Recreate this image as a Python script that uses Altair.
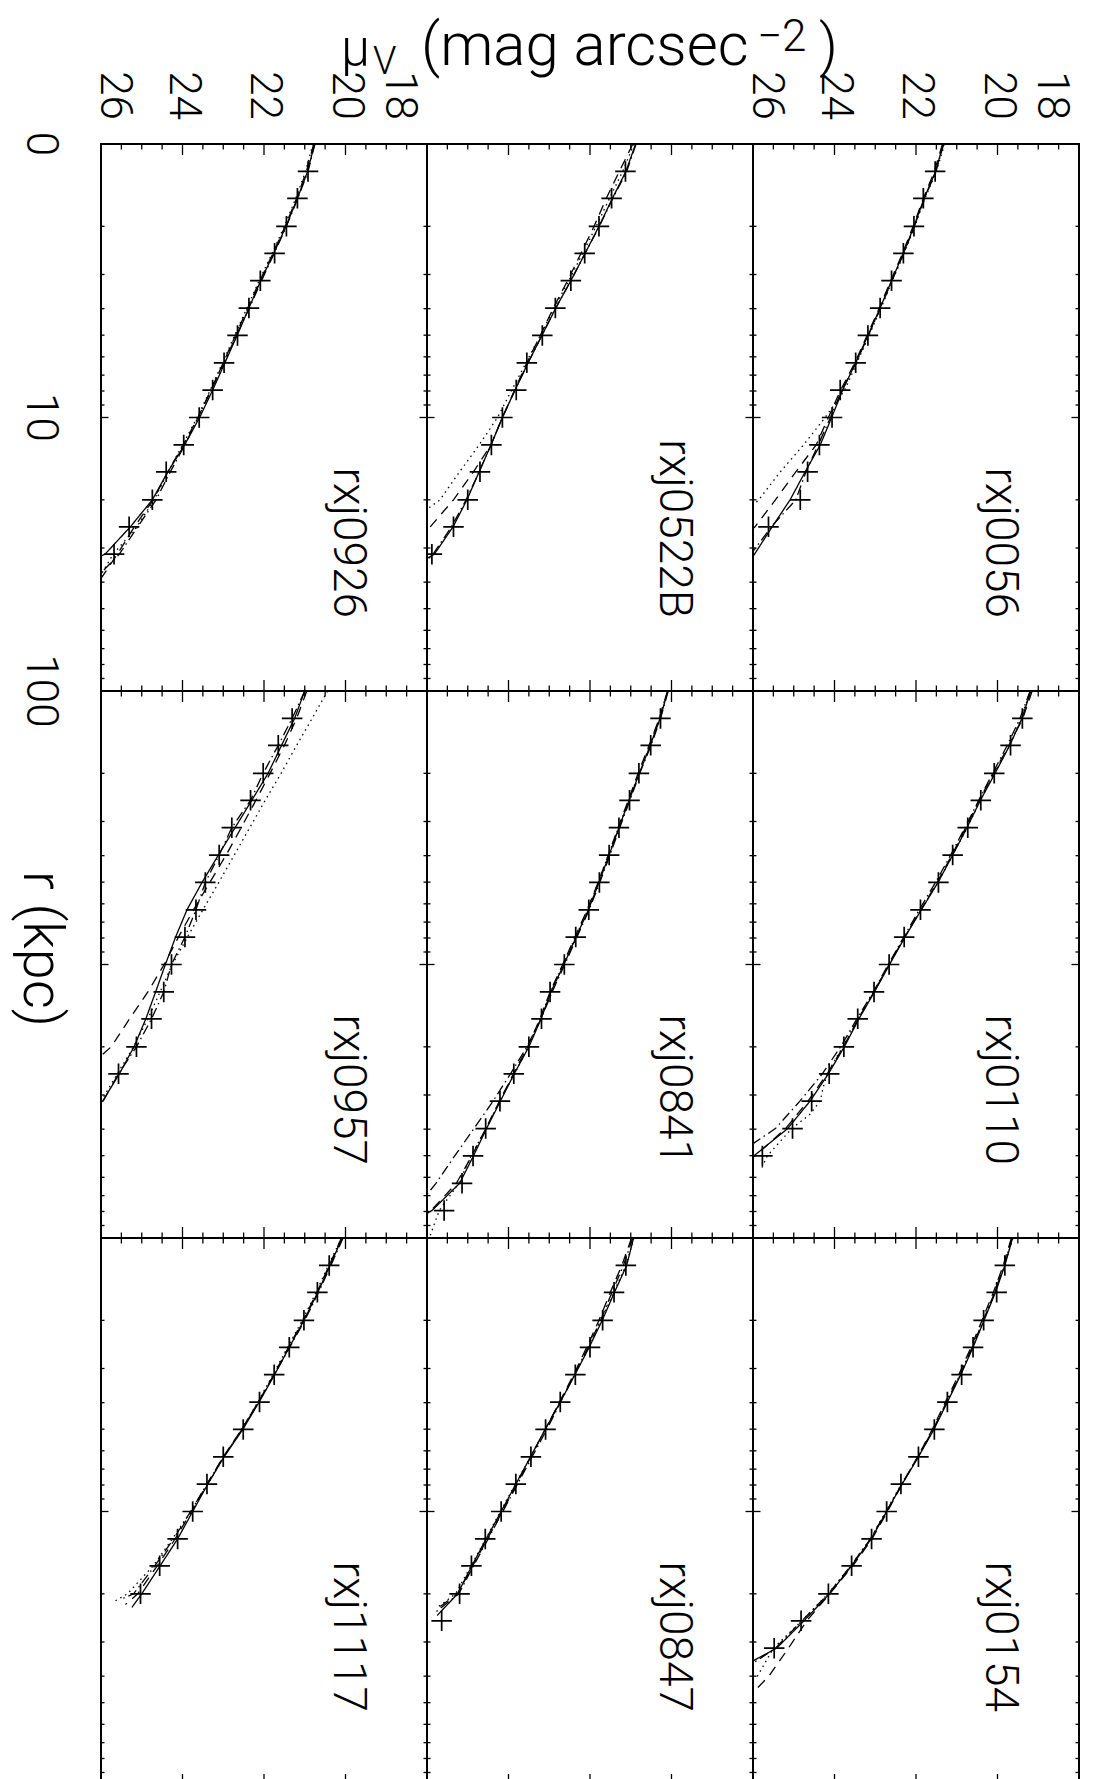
import altair as alt
import pandas as pd

FONT = "Roboto"
WEIGHT = 300
W, H = 326, 547

# radii (kpc) of the sampled profile points, 0.1 dex apart, first one is r = 1
R_LINE = [1.0, 1.26, 1.58, 2.0, 2.51, 3.16, 3.98, 5.01, 6.31, 7.94,
          10.0, 12.6, 15.8, 20.0, 25.1, 31.6, 39.8, 50.1, 63.1, 79.4]

NAMES = ["rxj0926", "rxj0522B", "rxj0056",
         "rxj0957", "rxj0841", "rxj0110",
         "rxj1117", "rxj0847", "rxj0154"]

# observed points (+), starting at r = 1.26 kpc
PTS = {
    "rxj0926": [20.92, 21.18, 21.45, 21.74, 22.09, 22.37, 22.65, 22.98, 23.26, 23.59, 23.97, 24.40, 24.74, 25.31, 25.68],
    "rxj0522B": [21.13, 21.47, 21.78, 22.13, 22.47, 22.85, 23.17, 23.55, 23.81, 24.15, 24.42, 24.70, 25.00, 25.35, 25.88],
    "rxj0056": [21.53, 21.82, 22.05, 22.31, 22.60, 22.88, 23.18, 23.48, 23.86, 24.06, 24.37, 24.66, 24.84, 25.62],
    "rxj0957": [21.31, 21.65, 22.02, 22.33, 22.79, 23.10, 23.44, 23.67, 23.94, 24.27, 24.46, 24.76, 25.13, 25.57],
    "rxj0841": [20.27, 20.51, 20.80, 21.03, 21.29, 21.53, 21.77, 22.03, 22.35, 22.63, 22.98, 23.19, 23.50, 23.87, 24.21, 24.56, 24.87, 25.14, 25.58],
    "rxj0110": [19.39, 19.68, 20.08, 20.41, 20.73, 21.10, 21.45, 21.89, 22.29, 22.66, 23.03, 23.43, 23.77, 24.13, 24.56, 25.03, 25.77],
    "rxj1117": [20.40, 20.69, 21.02, 21.38, 21.75, 22.11, 22.51, 23.00, 23.40, 23.75, 24.12, 24.56, 25.03],
    "rxj0847": [21.12, 21.41, 21.69, 22.00, 22.36, 22.73, 23.09, 23.45, 23.82, 24.18, 24.57, 24.91, 25.20, 25.64],
    "rxj0154": [19.82, 20.02, 20.34, 20.60, 20.88, 21.23, 21.55, 21.94, 22.37, 22.72, 23.09, 23.58, 24.15, 24.82, 25.48],
}

# model curves: values on R_LINE from r = 1, plus extra (r, mu) vertices at the end
SOLID = {
    "rxj0926": ([20.76, 20.93, 21.18, 21.46, 21.76, 22.08, 22.37, 22.66, 22.96, 23.26, 23.58, 23.95, 24.36, 24.74, 25.28, 25.90], [(32.4, 26.05)]),
    "rxj0522B": ([20.88, 21.12, 21.45, 21.78, 22.12, 22.47, 22.84, 23.18, 23.52, 23.84, 24.15, 24.43, 24.72, 25.02, 25.36, 25.82], [(33.1, 26.05)]),
    "rxj0056": ([21.33, 21.52, 21.80, 22.05, 22.31, 22.60, 22.88, 23.18, 23.48, 23.80, 24.07, 24.35, 24.72, 25.09, 25.53], [(33.1, 26.05)]),
    "rxj0957": ([21.00, 21.25, 21.57, 21.90, 22.30, 22.71, 23.12, 23.52, 23.89, 24.17, 24.42, 24.66, 24.90, 25.19, 25.55, 25.96], [(32.0, 26.05)]),
    "rxj0841": ([20.09, 20.28, 20.52, 20.79, 21.04, 21.29, 21.53, 21.78, 22.04, 22.34, 22.64, 22.96, 23.20, 23.50, 23.86, 24.20, 24.54, 24.86, 25.20, 25.88], [(82.0, 26.05)]),
    "rxj0110": ([19.18, 19.40, 19.70, 20.06, 20.42, 20.75, 21.10, 21.46, 21.87, 22.27, 22.65, 23.02, 23.40, 23.76, 24.15, 24.60, 25.15, 25.98], [(51.3, 26.05)]),
    "rxj1117": ([20.08, 20.38, 20.68, 21.02, 21.38, 21.74, 22.12, 22.52, 22.98, 23.38, 23.75, 24.12, 24.55, 25.00], [(22.4, 25.24)]),
    "rxj0847": ([20.93, 21.10, 21.40, 21.70, 22.02, 22.37, 22.73, 23.10, 23.46, 23.82, 24.18, 24.55, 24.90, 25.25], [(24.0, 25.75)]),
    "rxj0154": ([19.63, 19.82, 20.05, 20.33, 20.60, 20.90, 21.23, 21.56, 21.94, 22.34, 22.72, 23.10, 23.58, 24.12, 24.75, 25.42], [(35.5, 26.05)]),
}
DASHED = {
    "rxj0926": ([20.78, 20.96, 21.20, 21.48, 21.78, 22.10, 22.40, 22.70, 23.00, 23.30, 23.62, 23.98, 24.36, 24.72, 25.18, 25.60], [(39.8, 26.05)]),
    "rxj0522B": ([20.95, 21.28, 21.60, 21.90, 22.22, 22.55, 22.90, 23.22, 23.55, 23.85, 24.15, 24.43, 24.86, 25.35, 25.92], [(26.3, 26.05)]),
    "rxj0056": ([21.35, 21.55, 21.82, 22.07, 22.33, 22.62, 22.90, 23.20, 23.50, 23.85, 24.15, 24.45, 24.95, 25.45, 25.95], [(26.3, 26.10)]),
    "rxj0957": ([20.95, 21.20, 21.50, 21.85, 22.20, 22.56, 22.93, 23.33, 23.73, 24.10, 24.45, 24.85, 25.30, 25.75], [(21.9, 26.05)]),
    "rxj0841": ([20.10, 20.30, 20.55, 20.82, 21.06, 21.31, 21.55, 21.80, 22.07, 22.37, 22.67, 22.98, 23.23, 23.53, 23.88, 24.22, 24.56, 24.90, 25.28, 25.90], [(83.0, 26.05)]),
    "rxj0110": ([19.15, 19.38, 19.72, 20.10, 20.45, 20.78, 21.12, 21.48, 21.88, 22.28, 22.66, 23.03, 23.42, 23.78, 24.18, 24.65, 25.20, 25.95], [(51.0, 26.05)]),
    "rxj1117": ([20.10, 20.40, 20.70, 21.04, 21.40, 21.76, 22.14, 22.55, 23.00, 23.40, 23.78, 24.18, 24.62, 25.10], [(21.9, 25.40)]),
    "rxj0847": ([20.98, 21.22, 21.50, 21.78, 22.08, 22.40, 22.75, 23.10, 23.45, 23.80, 24.15, 24.52, 24.88, 25.25], [(22.9, 25.79)]),
    "rxj0154": ([19.66, 19.86, 20.10, 20.38, 20.65, 20.95, 21.28, 21.60, 21.96, 22.34, 22.70, 23.08, 23.55, 24.12, 24.68, 25.13, 25.60], [(46.8, 26.05)]),
}
DASHDOT = {
    "rxj0926": ([20.75, 20.92, 21.17, 21.45, 21.75, 22.06, 22.36, 22.68, 22.98, 23.30, 23.62, 23.94, 24.30, 24.65, 25.10, 25.55], [(37.0, 26.00)]),
    "rxj0522B": ([20.87, 21.10, 21.44, 21.77, 22.12, 22.47, 22.84, 23.18, 23.52, 23.84, 24.15, 24.43, 24.72, 25.04, 25.40, 25.85], [(34.0, 26.05)]),
    "rxj0056": ([21.32, 21.51, 21.79, 22.04, 22.30, 22.59, 22.87, 23.17, 23.47, 23.82, 24.10, 24.40, 24.70, 24.95, 25.55], [(31.6, 26.05)]),
    "rxj0957": ([21.00, 21.31, 21.65, 22.02, 22.33, 22.79, 23.10, 23.44, 23.67, 23.94, 24.27, 24.46, 24.76, 25.13, 25.57, 25.95], [(32.5, 26.05)]),
    "rxj0841": ([20.08, 20.27, 20.50, 20.78, 21.02, 21.27, 21.51, 21.76, 22.02, 22.32, 22.62, 22.93, 23.20, 23.55, 23.95, 24.38, 24.85, 25.32, 25.78], [(70.8, 26.05)]),
    "rxj0110": ([19.20, 19.45, 19.76, 20.12, 20.46, 20.80, 21.15, 21.52, 21.92, 22.30, 22.68, 23.05, 23.45, 23.85, 24.30, 24.85, 25.45], [(45.7, 26.05)]),
    "rxj1117": ([20.06, 20.36, 20.66, 21.00, 21.37, 21.75, 22.13, 22.54, 22.99, 23.40, 23.80, 24.22, 24.68, 25.20], [(20.9, 25.50)]),
    "rxj0847": ([20.95, 21.18, 21.46, 21.74, 22.05, 22.38, 22.72, 23.06, 23.42, 23.78, 24.14, 24.50, 24.86, 25.22], [(23.4, 25.80)]),
    "rxj0154": ([19.64, 19.84, 20.07, 20.35, 20.62, 20.92, 21.25, 21.58, 21.95, 22.35, 22.73, 23.12, 23.60, 24.15, 24.80, 25.45], [(36.3, 26.05)]),
}
DOTTED = {
    "rxj0926": ([20.80, 20.98, 21.22, 21.50, 21.80, 22.12, 22.42, 22.72, 23.02, 23.32, 23.64, 24.00, 24.35, 24.70, 25.12, 25.70], [(39.8, 26.10)]),
    "rxj0522B": ([20.92, 21.20, 21.52, 21.85, 22.18, 22.52, 22.88, 23.22, 23.57, 23.92, 24.27, 24.72, 25.20, 25.68], [(21.9, 26.05)]),
    "rxj0056": ([21.30, 21.50, 21.78, 22.03, 22.29, 22.58, 22.86, 23.15, 23.45, 23.75, 24.23, 24.76, 25.33, 25.86], [(21.4, 26.05)]),
    "rxj0957": ([20.44, 20.82, 21.20, 21.58, 21.97, 22.35, 22.73, 23.11, 23.50, 23.88, 24.25, 24.55, 24.85, 25.20, 25.60, 26.00], [(33.0, 26.10)]),
    "rxj0841": ([20.10, 20.30, 20.53, 20.80, 21.05, 21.30, 21.55, 21.80, 22.05, 22.36, 22.66, 22.97, 23.22, 23.52, 23.85, 24.22, 24.55, 24.92, 25.22, 25.70], [(97.7, 25.92)]),
    "rxj0110": ([19.20, 19.42, 19.70, 20.08, 20.42, 20.74, 21.10, 21.46, 21.88, 22.28, 22.66, 23.04, 23.42, 23.80, 24.18], [(28.2, 24.28), (31.6, 24.35), (35.5, 24.62), (39.8, 25.05), (50.1, 25.65), (56.2, 25.80)]),
    "rxj1117": ([20.10, 20.42, 20.72, 21.06, 21.42, 21.78, 22.15, 22.55, 22.98, 23.38, 23.80, 24.25, 24.72, 25.35], [(21.4, 25.69)]),
    "rxj0847": ([20.92, 21.12, 21.42, 21.72, 22.03, 22.38, 22.74, 23.10, 23.46, 23.83, 24.20, 24.56, 24.92, 25.30], [(22.4, 25.74)]),
    "rxj0154": ([19.62, 19.83, 20.06, 20.34, 20.61, 20.91, 21.24, 21.57, 21.95, 22.36, 22.74, 23.12, 23.60, 24.16, 24.80, 25.50], [(40.7, 25.92)]),
}

STYLE_NAMES = ["solid", "dashed", "dashdot", "dotted"]
DASH_RANGE = [[1, 0], [10, 7], [10, 4, 1.5, 4], [1.5, 4]]

MU_MAJOR = [24, 22, 20]
MU_MINOR = [25.5, 25, 24.5, 23.5, 23, 22.5, 21.5, 21, 20.5, 19.5, 19, 18.5]
R_MAJOR = [10]
R_MINOR = [2, 3, 4, 5, 6, 7, 8, 9, 20, 30, 40, 50, 60, 70, 80, 90]

MU_LABELS = [26, 24, 22, 20, 18]
R_LABELS = [1, 10, 100]
R_LABEL_TEXT = ["0", "10", "100"]

PLUS = "M-1,0L1,0M0,-1L0,1"

X_SCALE = alt.Scale(domain=[26, 18], nice=False, zero=False)
Y_SCALE = alt.Scale(type="log", domain=[1, 100], reverse=True, nice=False)


def xenc():
    return alt.X("mu:Q", scale=X_SCALE, axis=None)


def yenc():
    return alt.Y("r:Q", scale=Y_SCALE, axis=None)


def mk_line(spec):
    mus, tail = spec
    r = R_LINE[:len(mus)] + [t[0] for t in tail]
    m = list(mus) + [t[1] for t in tail]
    return r, m


def text_layer(text, x, y, size, angle=0, align="left", baseline="alphabetic"):
    df = pd.DataFrame({"t": [text]})
    kw = dict(align=align, baseline=baseline, fontSize=size, font=FONT,
              fontWeight=WEIGHT, color="black")
    if angle:
        kw["angle"] = angle
    return alt.Chart(df).mark_text(**kw).encode(
        x=alt.value(x), y=alt.value(y), text="t:N")


def mu_label_layers():
    out = []
    groups = [([MU_LABELS[0]], "alphabetic", 0), (MU_LABELS[1:-1], "middle", 0), ([MU_LABELS[-1]], "top", 6)]
    for vals, bl, dy in groups:
        df = pd.DataFrame({"mu": vals, "t": [str(v) for v in vals]})
        kw = dict(angle=90, align="right", baseline=bl, fontSize=44, font=FONT,
                  fontWeight=WEIGHT, color="black")
        if dy:
            kw["dy"] = dy
        out.append(alt.Chart(df).mark_text(**kw).encode(
            x=xenc(), y=alt.value(-24), text="t:N"))
    return out


def panel(idx, name):
    row, col = divmod(idx, 3)
    layers = []
    rows = []
    for style, src in zip(STYLE_NAMES, (SOLID, DASHED, DASHDOT, DOTTED)):
        r, m = mk_line(src[name])
        for i, (rr, mm) in enumerate(zip(r, m)):
            rows.append({"r": rr, "mu": mm, "style": style, "i": i})
    ldf = pd.DataFrame(rows)
    layers.append(alt.Chart(ldf).mark_line(color="black", strokeWidth=1.3, clip=True).encode(
        x=xenc(), y=yenc(),
        strokeDash=alt.StrokeDash("style:N", scale=alt.Scale(domain=STYLE_NAMES, range=DASH_RANGE), legend=None),
        order=alt.Order("i:Q")))

    pdf = pd.DataFrame({"r": R_LINE[1:1 + len(PTS[name])], "mu": PTS[name]})
    layers.append(alt.Chart(pdf).mark_point(shape=PLUS, size=420, filled=False, color="black",
                                            strokeWidth=1.7, opacity=1, clip=True).encode(
        x=xenc(), y=yenc()))

    for vals, ln in ((MU_MINOR, 5.5), (MU_MAJOR, 11)):
        base = alt.Chart(pd.DataFrame({"mu": vals})).mark_rule(color="black", strokeWidth=1.3)
        layers.append(base.encode(x=xenc(), y=alt.value(0), y2=alt.value(ln)))
        layers.append(base.encode(x=xenc(), y=alt.value(H), y2=alt.value(H - ln)))
    for vals, ln in ((R_MINOR, 3.5), (R_MAJOR, 7.5)):
        base = alt.Chart(pd.DataFrame({"r": vals})).mark_rule(color="black", strokeWidth=1.3)
        layers.append(base.encode(y=yenc(), x=alt.value(0), x2=alt.value(ln)))
        layers.append(base.encode(y=yenc(), x=alt.value(W), x2=alt.value(W - ln)))

    layers.append(text_layer(name, 233, 474, 46, angle=90, align="right", baseline="alphabetic"))

    if row == 0 and col in (0, 2):
        layers.extend(mu_label_layers())
    if row == 0 and col == 0:
        rl = pd.DataFrame({"r": R_LABELS, "t": R_LABEL_TEXT})
        layers.append(alt.Chart(rl).mark_text(angle=90, align="center", baseline="middle",
                                              fontSize=44, font=FONT, fontWeight=WEIGHT,
                                              color="black").encode(
            y=yenc(), x=alt.value(-61), text="t:N"))
        # title of the magnitude axis
        layers.append(text_layer("\u03bc", 240, -79, 52))
        layers.append(text_layer("V", 272, -70, 38))
        layers.append(text_layer("(mag arcsec", 320, -79, 60))
        layers.append(text_layer("\u22122", 656, -93, 44))
        layers.append(text_layer(")", 718, -79, 58))
        # anchor fixing the top-left corner of the whole figure
        layers.append(alt.Chart(pd.DataFrame({"a": [0]})).mark_rect(opacity=0).encode(
            x=alt.value(-92), x2=alt.value(-90), y=alt.value(-135), y2=alt.value(-133)))
    if row == 1 and col == 0:
        layers.append(text_layer("r (kpc)", -60, 258, 56, angle=90, align="center", baseline="middle"))

    return alt.layer(*layers).properties(width=W, height=H)


charts = [panel(i, n) for i, n in enumerate(NAMES)]
chart = alt.concat(*charts, columns=3, spacing=0, bounds="flush").properties(
    padding=0
).configure_view(stroke="black", strokeWidth=2)

chart.save("out.html", embed_options={"renderer": "svg", "actions": False})
